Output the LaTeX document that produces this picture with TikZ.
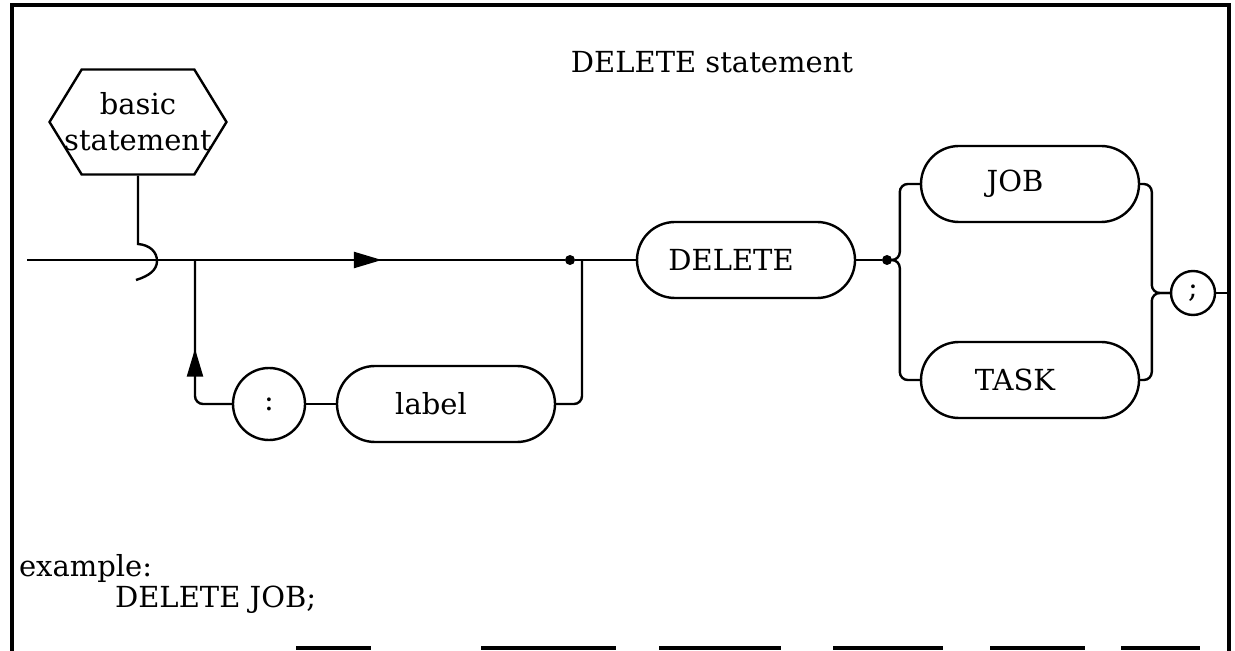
\documentclass[tikz,border=0pt]{standalone}
\usepackage{fontspec}
\setmainfont{DejaVu Serif}
\usetikzlibrary{shapes.symbols,arrows.meta,decorations.markings,calc}

\begin{document}
\begin{tikzpicture}[
  x=0.5pt, y=-0.5pt,
  font=\fontsize{14.5}{18}\selectfont,
  term/.style={rectangle, draw, rounded corners=19pt, minimum width=109pt, minimum height=38pt, line width=1.2pt, execute at end node={\hspace*{15pt}}},
  sym/.style={circle, draw, line width=1.2pt, inner sep=0pt},
  hexbox/.style={signal, signal to=east and west, draw, line width=1.2pt, minimum height=52.5pt, signal pointer angle=117, align=center, inner xsep=-8.75pt, inner ysep=1pt},
  dot/.style={circle, fill, inner sep=0pt, minimum size=5pt},
  line/.style={line width=1.2pt, rounded corners=4pt},
  frame/.style={line width=1.6pt},
  flowarrow/.style={postaction={decorate}, decoration={markings, mark=at position #1 with {\arrow{Triangle[length=14pt,width=8pt]}}}},
]
\useasboundingbox (0,0) rectangle (1235,651);

% === frame ===
\draw[frame] (12,651) -- (12,5) -- (1229,5) -- (1229,651);
\foreach \a/\b in {296/371, 481/616, 659/781, 833/943, 990/1085, 1121/1200}
  \draw[frame] (\a,648) -- (\b,648);

% === title and entry ===
\node (title) at (712,62) {DELETE statement};
\node[hexbox] (bs) at (138,122) {basic\\statement};
\coordinate (hook) at (138,244);
\coordinate (hookend) at (136,280);
\coordinate (start) at (27,260);
\coordinate (split) at (195,260);
\coordinate (merge) at (582,260);
\coordinate (exit) at (1229,293);

% === optional label loop ===
\node[sym, minimum size=36pt] (colon) at (269,404) {:};
\node[term] (lbl) at (446,404) {label};
\node[dot] (j1) at (570,260) {};

% === keyword and choices ===
\node[term] (del) at (746,260) {DELETE};
\node[dot] (j2) at (887,260) {};
\node[term] (job) at (1030,184) {JOB};
\node[term] (task) at (1030,380) {TASK};
\node[sym, minimum size=22pt] (semi) at (1193,293) {;};

% === connectors ===
\draw[line, rounded corners=0pt] (bs.south) -- (hook) .. controls (150,245) and (157,252) .. (157,261) .. controls (157,270) and (149,276) .. (hookend);
\draw[line, flowarrow=0.66] (start) -- (j1);
\draw[line, flowarrow=0.5] (colon.west) -| (split);
\draw[line] (colon) -- (lbl);
\draw[line] (lbl.east) -| (merge);
\draw[line] (j1) -- (del);
\draw[line] (del) -- (j2);
\draw[line] (j2.center) -| ($(job.west)+(-20,0)$) -- (job.west);
\draw[line] (j2.center) -| ($(task.west)+(-20,0)$) -- (task.west);
\draw[line] (job.east) -| ($(semi.west)+(-18,0)$) -- (semi.west);
\draw[line] (task.east) -| ($(semi.west)+(-18,0)$) -- (semi.west);
\draw[line] (semi) -- (exit);

% === example ===
\node[anchor=west] (ex) at (12,568) {example:};
\node[anchor=west] (exjob) at (108,600) {DELETE JOB;};
\end{tikzpicture}
\end{document}
